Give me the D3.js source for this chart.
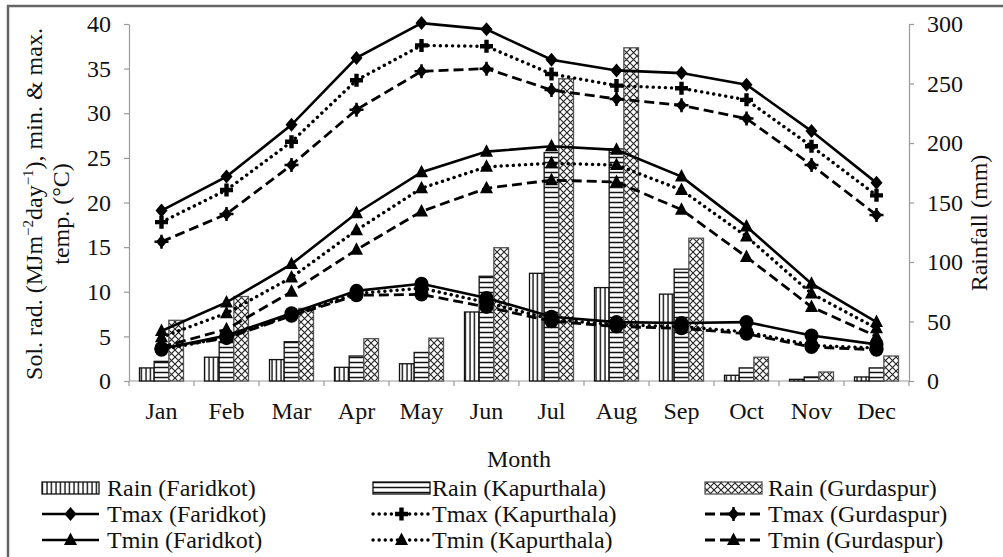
<!DOCTYPE html>
<html>
<head>
<meta charset="utf-8">
<script src="https://cdn.jsdelivr.net/npm/d3@7"></script>
<style>
  body { margin: 0; background: #fff; }
  svg { display: block; }
  text { font-family: "Liberation Serif", "Times New Roman", serif; fill: #111; }
</style>
</head>
<body>
<svg id="chart" width="1003" height="557"></svg>
<script>
// ---- data -------------------------------------------------------------
const months = ["Jan", "Feb", "Mar", "Apr", "May", "Jun", "Jul", "Aug", "Sep", "Oct", "Nov", "Dec"];

// monthly rainfall (mm), right axis
const rainFaridkot   = [11, 20, 18, 11.5, 14.5, 58, 90.5, 78.5, 73, 4.8, 1.4, 3.4];
const rainKapurthala = [16.5, 33, 33, 21, 24, 88, 192, 195, 94, 11, 3.4, 11];
const rainGurdaspur  = [51, 71, 61, 35.6, 36, 112, 254, 280, 120, 20, 7.6, 21];

// maximum temperature (°C)
const tmaxFaridkot   = [19.1, 22.9, 28.7, 36.2, 40.1, 39.4, 36.0, 34.8, 34.5, 33.2, 28.0, 22.2];
const tmaxKapurthala = [17.8, 21.4, 26.8, 33.7, 37.6, 37.5, 34.4, 33.1, 32.8, 31.5, 26.3, 20.8];
const tmaxGurdaspur  = [15.6, 18.7, 24.2, 30.4, 34.7, 35.0, 32.6, 31.6, 30.9, 29.4, 24.2, 18.6];

// minimum temperature (°C)
const tminFaridkot   = [5.6, 8.8, 13.1, 18.8, 23.4, 25.7, 26.3, 25.9, 22.9, 17.3, 10.9, 6.6];
const tminKapurthala = [4.9, 7.6, 11.6, 16.9, 21.6, 24.0, 24.4, 24.2, 21.4, 16.2, 9.8, 5.9];
const tminGurdaspur  = [3.8, 5.8, 10.0, 14.7, 19.0, 21.6, 22.5, 22.3, 19.2, 13.9, 8.3, 5.0];

// solar radiation (MJ m-2 day-1)
const solFaridkot    = [3.6, 5.1, 7.6, 10.1, 10.9, 9.3, 7.2, 6.6, 6.5, 6.6, 5.1, 4.1];
const solKapurthala  = [3.5, 4.9, 7.4, 9.8, 10.4, 8.8, 6.9, 6.3, 6.1, 5.5, 4.0, 3.7];
const solGurdaspur   = [3.7, 4.8, 7.3, 9.6, 9.7, 8.3, 6.7, 6.1, 5.9, 5.3, 3.8, 3.5];

const leftTicks  = [0, 5, 10, 15, 20, 25, 30, 35, 40];
const rightTicks = [0, 50, 100, 150, 200, 250, 300];

// ---- setup ------------------------------------------------------------
const svg = d3.select("#chart");
const plot = { left: 129, right: 909, top: 24, bottom: 381 };
const FONT = 24;
const AXIS_GREY = "#9a9a9a";

const x = d3.scaleBand().domain(months).range([plot.left, plot.right]).padding(0);
const stations = ["Faridkot", "Kapurthala", "Gurdaspur"];
const xSub = d3.scaleBand().domain(stations).range([-22, 22]).padding(0);
const yT = d3.scaleLinear().domain([0, 40]).range([plot.bottom, plot.top]);
const yR = d3.scaleLinear().domain([0, 300]).range([plot.bottom, plot.top]);

svg.append("rect").attr("width", 1003).attr("height", 557).attr("fill", "#fff");

// fill patterns for the rainfall bars
const defs = svg.append("defs");
const vStripe = defs.append("pattern").attr("id", "vstripe")
  .attr("patternUnits", "userSpaceOnUse").attr("width", 4.5).attr("height", 10);
vStripe.append("rect").attr("width", 4.5).attr("height", 10).attr("fill", "#fff");
vStripe.append("line").attr("x1", 2).attr("x2", 2).attr("y1", 0).attr("y2", 10)
  .attr("stroke", "#111").attr("stroke-width", 1.4);

const hStripe = defs.append("pattern").attr("id", "hstripe")
  .attr("patternUnits", "userSpaceOnUse").attr("width", 10).attr("height", 5);
hStripe.append("rect").attr("width", 10).attr("height", 5).attr("fill", "#fff");
hStripe.append("line").attr("x1", 0).attr("x2", 10).attr("y1", 2.5).attr("y2", 2.5)
  .attr("stroke", "#111").attr("stroke-width", 1.5);

const xHatch = defs.append("pattern").attr("id", "xhatch")
  .attr("patternUnits", "userSpaceOnUse").attr("width", 7).attr("height", 7);
xHatch.append("rect").attr("width", 7).attr("height", 7).attr("fill", "#fff");
xHatch.append("path").attr("d", "M0,0L7,7M7,0L0,7")
  .attr("stroke", "#222").attr("stroke-width", 1.1).attr("fill", "none");

const barStyles = {
  Faridkot:   { fill: "url(#vstripe)", stroke: "#111" },
  Kapurthala: { fill: "url(#hstripe)", stroke: "#111" },
  Gurdaspur:  { fill: "url(#xhatch)",  stroke: "#555" }
};
const rainByStation = { Faridkot: rainFaridkot, Kapurthala: rainKapurthala, Gurdaspur: rainGurdaspur };

// ---- outer frame ------------------------------------------------------
svg.append("path").attr("d", "M8,560V6H1006")
  .attr("fill", "none").attr("stroke", "#666").attr("stroke-width", 2.5);

// ---- axes -------------------------------------------------------------
const leftAxis = d3.axisLeft(yT).tickValues(leftTicks).tickSizeInner(5).tickSizeOuter(0).tickPadding(13);
const gL = svg.append("g").attr("transform", `translate(${plot.left},0)`).call(leftAxis);
const rightAxis = d3.axisRight(yR).tickValues(rightTicks).tickSizeInner(5).tickSizeOuter(0).tickPadding(13);
const gR = svg.append("g").attr("transform", `translate(${plot.right},0)`).call(rightAxis);
[gL, gR].forEach(g => {
  g.select(".domain").attr("stroke", AXIS_GREY).attr("stroke-width", 1.2);
  g.selectAll(".tick line").attr("stroke", AXIS_GREY).attr("stroke-width", 1.2);
  g.selectAll(".tick text").attr("font-size", FONT).attr("font-family", "Liberation Serif").attr("fill", "#111");
});

// category axis: baseline plus boundary ticks
const gB = svg.append("g");
gB.append("line").attr("x1", plot.left).attr("x2", plot.right)
  .attr("y1", plot.bottom).attr("y2", plot.bottom)
  .attr("stroke", AXIS_GREY).attr("stroke-width", 1.2);
const bounds = months.map(m => x(m)).concat([x(months[months.length - 1]) + x.bandwidth()]);
gB.selectAll("line.tk").data(bounds).join("line").attr("class", "tk")
  .attr("x1", d => d).attr("x2", d => d)
  .attr("y1", plot.bottom).attr("y2", plot.bottom + 5)
  .attr("stroke", AXIS_GREY).attr("stroke-width", 1.2);
gB.selectAll("text").data(months).join("text")
  .attr("x", d => x(d) + x.bandwidth() / 2).attr("y", 419)
  .attr("text-anchor", "middle").attr("font-size", FONT).text(d => d);

// axis titles
svg.append("text").attr("x", (plot.left + plot.right) / 2).attr("y", 467)
  .attr("text-anchor", "middle").attr("font-size", FONT).text("Month");

const t1 = svg.append("text").attr("text-anchor", "middle").attr("font-size", FONT)
  .attr("transform", "translate(42,204) rotate(-90)");
t1.append("tspan").text("Sol. rad. (MJm");
t1.append("tspan").attr("font-size", 15).attr("dy", -9).text("\u22122");
t1.append("tspan").attr("dy", 9).text("day");
t1.append("tspan").attr("font-size", 15).attr("dy", -9).text("\u22121");
t1.append("tspan").attr("dy", 9).text("), min. & max.");
svg.append("text").attr("text-anchor", "middle").attr("font-size", FONT)
  .attr("transform", "translate(69,214) rotate(-90)").text("temp. (\u00B0C)");
svg.append("text").attr("text-anchor", "middle").attr("font-size", FONT)
  .attr("transform", "translate(987,223) rotate(-90)").text("Rainfall (mm)");

// ---- rainfall bars ----------------------------------------------------
const barData = [];
stations.forEach(s => months.forEach((m, i) => barData.push({ s, m, v: rainByStation[s][i] })));
svg.append("g").selectAll("rect").data(barData).join("rect")
  .attr("x", d => x(d.m) + x.bandwidth() / 2 + xSub(d.s))
  .attr("width", xSub.bandwidth())
  .attr("y", d => yR(d.v))
  .attr("height", d => yR(0) - yR(d.v))
  .attr("fill", d => barStyles[d.s].fill)
  .attr("stroke", d => barStyles[d.s].stroke)
  .attr("stroke-width", 1.3);

// ---- marker shapes ----------------------------------------------------
const markerPaths = {
  diamond: "M0,-7L6,0L0,7L-6,0Z",
  plus: "M-2.2,-6.5H2.2V-2.2H6.5V2.2H2.2V6.5H-2.2V2.2H-6.5V-2.2H-2.2Z",
  diamondPlus: "M0,-6.5L5.5,0L0,6.5L-5.5,0Z",
  triangle: "M0,-7.5L6.5,5L-6.5,5Z"
};
function drawMarker(g, type, cx, cy) {
  if (type === "circle") {
    g.append("circle").attr("cx", cx).attr("cy", cy).attr("r", 7).attr("fill", "#000");
  } else if (type === "diamondPlus") {
    g.append("path").attr("d", markerPaths.diamondPlus).attr("transform", `translate(${cx},${cy})`).attr("fill", "#000");
    g.append("path").attr("d", "M-7,0H7M0,-7V7").attr("transform", `translate(${cx},${cy})`)
      .attr("stroke", "#000").attr("stroke-width", 2.5);
  } else {
    g.append("path").attr("d", markerPaths[type]).attr("transform", `translate(${cx},${cy})`).attr("fill", "#000");
  }
}

const dashStyles = {
  solid:  { dash: null, width: 2.6, cap: "butt" },
  dotted: { dash: "0.1,6", width: 3.4, cap: "round" },
  dashed: { dash: "10,5", width: 2.8, cap: "butt" }
};

const lineSeries = [
  { name: "Sol (Faridkot)",   values: solFaridkot,    style: "solid",  marker: "circle" },
  { name: "Sol (Kapurthala)", values: solKapurthala,  style: "dotted", marker: "circle" },
  { name: "Sol (Gurdaspur)",  values: solGurdaspur,   style: "dashed", marker: "circle" },
  { name: "Tmin (Gurdaspur)", values: tminGurdaspur,  style: "dashed", marker: "triangle" },
  { name: "Tmin (Kapurthala)",values: tminKapurthala, style: "dotted", marker: "triangle" },
  { name: "Tmin (Faridkot)",  values: tminFaridkot,   style: "solid",  marker: "triangle" },
  { name: "Tmax (Gurdaspur)", values: tmaxGurdaspur,  style: "dashed", marker: "diamondPlus" },
  { name: "Tmax (Kapurthala)",values: tmaxKapurthala, style: "dotted", marker: "plus" },
  { name: "Tmax (Faridkot)",  values: tmaxFaridkot,   style: "solid",  marker: "diamond" }
];

const line = d3.line().x((d, i) => x(months[i]) + x.bandwidth() / 2).y(d => yT(d));
const gLines = svg.append("g");
lineSeries.forEach(s => {
  const st = dashStyles[s.style];
  gLines.append("path").datum(s.values).attr("d", line)
    .attr("fill", "none").attr("stroke", "#000")
    .attr("stroke-width", st.width).attr("stroke-linecap", st.cap)
    .attr("stroke-dasharray", st.dash);
  const gm = gLines.append("g");
  s.values.forEach((v, i) => drawMarker(gm, s.marker, x(months[i]) + x.bandwidth() / 2, yT(v)));
});

// ---- legend -----------------------------------------------------------
const legendRows = [488, 514, 540];
const legendSymX = [42, 373, 705];
const legendTextX = [107, 432, 768];
const legendItems = [
  [{ kind: "bar", station: "Faridkot", label: "Rain (Faridkot)" },
   { kind: "line", style: "solid", marker: "diamond", label: "Tmax (Faridkot)" },
   { kind: "line", style: "solid", marker: "triangle", label: "Tmin (Faridkot)" }],
  [{ kind: "bar", station: "Kapurthala", label: "Rain (Kapurthala)" },
   { kind: "line", style: "dotted", marker: "plus", label: "Tmax (Kapurthala)" },
   { kind: "line", style: "dotted", marker: "triangle", label: "Tmin (Kapurthala)" }],
  [{ kind: "bar", station: "Gurdaspur", label: "Rain (Gurdaspur)" },
   { kind: "line", style: "dashed", marker: "diamondPlus", label: "Tmax (Gurdaspur)" },
   { kind: "line", style: "dashed", marker: "triangle", label: "Tmin (Gurdaspur)" }]
];
const gLeg = svg.append("g");
legendItems.forEach((col, ci) => {
  col.forEach((it, ri) => {
    const cy = legendRows[ri];
    const sx = legendSymX[ci];
    if (it.kind === "bar") {
      gLeg.append("rect").attr("x", sx).attr("y", cy - 6).attr("width", 57).attr("height", 12)
        .attr("fill", barStyles[it.station].fill).attr("stroke", barStyles[it.station].stroke)
        .attr("stroke-width", 1.3);
    } else {
      const st = dashStyles[it.style];
      gLeg.append("line").attr("x1", sx).attr("x2", sx + 57).attr("y1", cy).attr("y2", cy)
        .attr("stroke", "#000").attr("stroke-width", st.width).attr("stroke-linecap", st.cap)
        .attr("stroke-dasharray", st.dash);
      drawMarker(gLeg, it.marker, sx + 28.5, cy);
    }
    gLeg.append("text").attr("x", legendTextX[ci]).attr("y", cy + 8)
      .attr("font-size", FONT).text(it.label);
  });
});
</script>
</body>
</html>
